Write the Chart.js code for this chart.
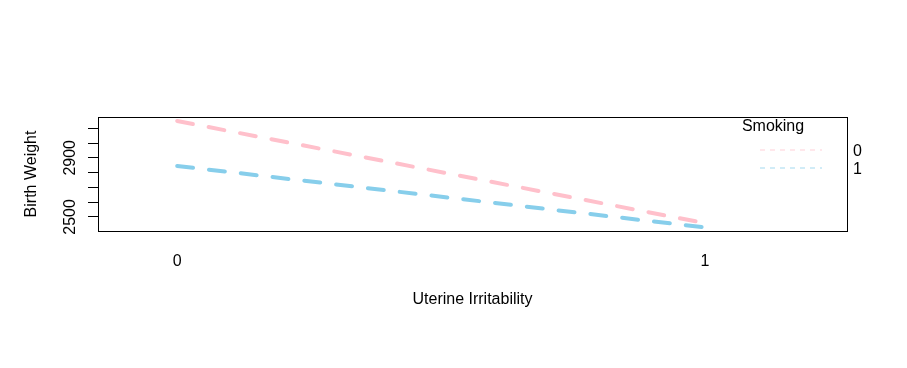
<!DOCTYPE html>
<html lang="en">
<head>
    <meta charset="UTF-8">
    <title>Birth Weight by Uterine Irritability and Smoking</title>
    <style>
        body {
            margin: 0;
            padding: 0;
            background-color: #fff;
        }
        .chart-container {
            width: 907px;
            height: 368px;
        }
    </style>
    <script src="https://cdn.jsdelivr.net/npm/chart.js"></script>
</head>
<body>
    <div class="chart-container">
        <canvas id="interactionChart"></canvas>
    </div>

    <script>
        // Data
        const uterineLevels = ['0', '1'];           // x categories
        const smokingGroups = ['0', '1'];           // trace factor levels
        const bwtNonSmoker = [3149, 2458];          // smoking = 0
        const bwtSmoker = [2845, 2429];             // smoking = 1
        const yTickValues = [2500, 2600, 2700, 2800, 2900, 3000, 3100];
        const yTickLabels = ['2500', '', '', '', '2900', '', ''];

        const seriesColors = ['#FFC0CB', '#87CEEB'];
        const FONT = 'Liberation Sans, Arial, sans-serif';

        function toPoints(values) {
            return values.map((v, i) => ({ x: i, y: v }));
        }

        // Box around the plot region + legend (R style)
        const boxAndLegend = {
            id: 'boxAndLegend',
            afterDraw(chart) {
                const { ctx, chartArea } = chart;
                ctx.save();
                ctx.strokeStyle = '#000';
                ctx.lineWidth = 1;
                ctx.setLineDash([]);
                ctx.strokeRect(chartArea.left + 0.5, chartArea.top + 0.5,
                    chartArea.right - chartArea.left, chartArea.bottom - chartArea.top);

                // legend
                const r = chartArea.right;
                ctx.fillStyle = '#000';
                ctx.font = '16px ' + FONT;
                ctx.textAlign = 'center';
                ctx.textBaseline = 'middle';
                ctx.fillText('Smoking', r - 74, chartArea.top + 10);
                chart.data.datasets.forEach((ds, i) => {
                    const y = chartArea.top + 33 + i * 18;
                    ctx.strokeStyle = ds.borderColor;
                    ctx.globalAlpha = 0.75;
                    ctx.lineWidth = 1;
                    ctx.setLineDash([5, 5]);
                    ctx.beginPath();
                    ctx.moveTo(r - 87, y);
                    ctx.lineTo(r - 25, y);
                    ctx.stroke();
                    ctx.globalAlpha = 1;
                    ctx.setLineDash([]);
                    ctx.textAlign = 'left';
                    ctx.fillText(ds.label, r + 6, y + 2);
                });
                ctx.restore();
            }
        };

        const ctx = document.getElementById('interactionChart').getContext('2d');
        new Chart(ctx, {
            type: 'line',
            data: {
                datasets: [
                    {
                        label: smokingGroups[0],
                        data: toPoints(bwtNonSmoker),
                        borderColor: seriesColors[0],
                        borderWidth: 4,
                        borderDash: [16, 16],
                        borderCapStyle: 'round',
                        pointRadius: 0,
                        tension: 0
                    },
                    {
                        label: smokingGroups[1],
                        data: toPoints(bwtSmoker),
                        borderColor: seriesColors[1],
                        borderWidth: 4,
                        borderDash: [16, 16],
                        borderCapStyle: 'round',
                        pointRadius: 0,
                        tension: 0
                    }
                ]
            },
            options: {
                responsive: true,
                maintainAspectRatio: false,
                animation: false,
                layout: {
                    padding: { left: 0, right: 60, top: 117, bottom: 0 }
                },
                plugins: {
                    legend: { display: false },
                    tooltip: { enabled: false }
                },
                scales: {
                    x: {
                        type: 'linear',
                        min: -0.15,
                        max: 1.269,
                        afterBuildTicks: (scale) => {
                            scale.ticks = uterineLevels.map((_, i) => ({ value: i }));
                        },
                        afterFit: (scale) => { scale.height = 137; },
                        grid: { display: false, drawTicks: false },
                        border: { display: false },
                        ticks: {
                            autoSkip: false,
                            maxRotation: 0,
                            padding: 21,
                            color: '#000',
                            font: { family: FONT, size: 16 },
                            callback: (v) => uterineLevels[v]
                        },
                        title: {
                            display: true,
                            text: 'Uterine Irritability',
                            color: '#000',
                            font: { family: FONT, size: 16 },
                            padding: { top: 0, bottom: 59 }
                        }
                    },
                    y: {
                        type: 'linear',
                        min: 2405,
                        max: 3176,
                        afterBuildTicks: (scale) => {
                            scale.ticks = yTickValues.map(v => ({ value: v }));
                        },
                        afterFit: (scale) => { scale.width = 98; },
                        grid: {
                            drawOnChartArea: false,
                            drawTicks: true,
                            tickLength: 10,
                            color: '#000',
                            lineWidth: 1
                        },
                        border: { display: false },
                        ticks: {
                            autoSkip: false,
                            minRotation: 90,
                            maxRotation: 90,
                            crossAlign: 'center',
                            padding: 0,
                            color: '#000',
                            font: { family: FONT, size: 16 },
                            callback: (v) => yTickLabels[yTickValues.indexOf(v)]
                        },
                        title: {
                            display: true,
                            text: 'Birth Weight',
                            color: '#000',
                            font: { family: FONT, size: 16 },
                            padding: { top: 22, bottom: 0 }
                        }
                    }
                }
            },
            plugins: [boxAndLegend]
        });
    </script>
</body>
</html>
